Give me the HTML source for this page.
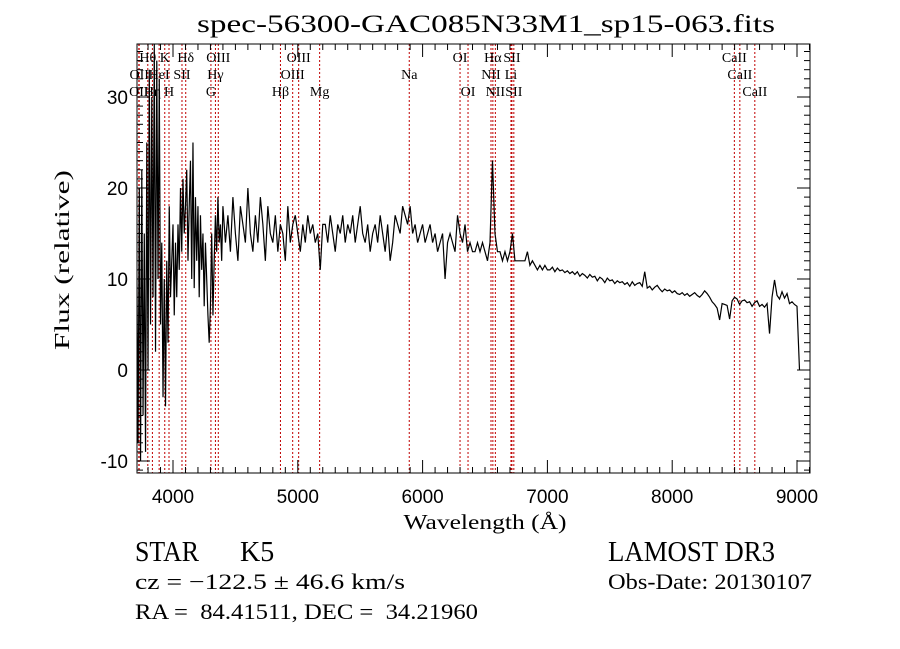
<!DOCTYPE html>
<html><head><meta charset="utf-8"><style>
html,body{margin:0;padding:0;background:#fff}
svg{display:block}
text{font-family:"Liberation Serif",serif;fill:#000}
.sans{font-family:"Liberation Sans",sans-serif}
</style></head><body>
<svg id="chart" width="900" height="649" viewBox="0 0 900 649" xmlns="http://www.w3.org/2000/svg">
<rect x="0" y="0" width="900" height="649" fill="#fff"/>
<text x="486" y="32" font-size="25" text-anchor="middle" textLength="578" lengthAdjust="spacingAndGlyphs">spec-56300-GAC085N33M1_sp15-063.fits</text>
<defs><clipPath id="plotclip"><rect x="137" y="44" width="673" height="429"/></clipPath></defs>
<g id="lines"></g>
<g id="labels"></g>
<g clip-path="url(#plotclip)"><polyline id="spec" fill="none" stroke="#000" stroke-width="1.2" stroke-linejoin="miter"/></g>
<rect x="137" y="44" width="673" height="429" fill="none" stroke="#000" stroke-width="1"/>
<g id="ticks"></g>
<g id="ticklabels"></g>
<text x="485" y="529" font-size="21" text-anchor="middle" textLength="163" lengthAdjust="spacingAndGlyphs">Wavelength (Å)</text>
<text transform="translate(69,260) rotate(-90)" font-size="21" text-anchor="middle" textLength="180" lengthAdjust="spacingAndGlyphs">Flux (relative)</text>
<text x="135" y="561" font-size="28" textLength="64" lengthAdjust="spacingAndGlyphs">STAR</text>
<text x="240" y="561" font-size="28">K5</text>
<text x="608" y="561" font-size="28" textLength="167" lengthAdjust="spacingAndGlyphs">LAMOST DR3</text>
<text x="135" y="589" font-size="22" textLength="270" lengthAdjust="spacingAndGlyphs">cz = −122.5 ± 46.6 km/s</text>
<text x="608" y="589" font-size="22" textLength="204" lengthAdjust="spacingAndGlyphs">Obs-Date: 20130107</text>
<text x="135" y="619" font-size="22" textLength="343" xml:space="preserve" lengthAdjust="spacingAndGlyphs">RA =  84.41511, DEC =  34.21960</text>
</svg>
<script>
// blue segment: 3710..4400 step 10 A
const blueStart = 3710, blueStep = 10;
const blueFlux = [12,-8,20,-10,22,-5,15,-9,25,0,33,5,30,8,36,2,34,10,32,5,14,-3,10,-4,12,3,18,8,12,16,6,14,8,16,11,20,13,21,15,18,22,12,18,23,10,25,9,19,12,18,8,17,11,15,7,14,10,6,3,7,15,6,12,17,13,19,14,16,12,18];
// red segment: 4420..9020 step 20 A
const redStart = 4420, redStep = 20;
const redFlux = [
14,17,13,19,15,12,18,16,14,20,
15,13,17,14,19,16,12,18,15,14,
17,13,16,15,12,18,14,16,17,15,
13,16,14,17,15,16,14,15,11,16,
16,14,17,15,13,16,15,17,14,16,
15,17,14,16,18,15,14,16,13,15,
16,14,17,15,13,16,12,14,17,16,
15,18,17,16,18,15,16,14,15,16,
14,15,16,14,15,13,14,15,10,14,
15,14,13,17,15,14,16,13,14,13,
13,14,13,14,13,12,14,23,15,13,
13,12,13,12,13,15,12,12,12,12,
12,13,11.5,12,11.5,11,11.5,11,11.5,11,
11,11.3,10.8,11.2,10.9,11,10.7,10.9,10.6,10.8,
10.5,10.8,10.3,10.6,10.4,10.1,10.5,10.2,10.3,9.8,
10.2,10,9.6,10.1,9.8,9.9,9.5,9.8,9.6,9.7,
9.4,9.6,9.2,9.7,9.3,9.5,9.6,9.2,10.8,9.0,
9.2,8.8,9.1,9.3,8.9,8.6,8.9,8.7,8.8,8.5,
8.7,8.4,8.3,8.5,8.2,8.4,8.1,8.3,8.5,8.2,
8.0,8.3,8.7,8.4,8.0,7.5,7.2,6.8,5.5,7.3,
7.2,7.1,5.6,7.6,8.0,7.8,7.2,7.6,7.7,7.4,
7.5,7.0,7.4,7.6,7.0,7.2,6.9,7.3,4.0,8.0,
9.9,8.2,7.8,8.6,7.9,8.4,7.3,7.5,7.2,7.0,0];
const lineWaves = [3726,3729,3798,3835,3889,3934,3968,4072,4102,4304,4340,4363,4861,4959,5007,5175,5893,6300,6364,6548,6563,6583,6708,6716,6731,8498,8542,8662];
const lineNames = ["OII","OII","Hθ","Hη","HeI","K","H","SII","Hδ","G","Hγ","OIII","Hβ","OIII","OIII","Mg","Na","OI","OI","NII","Hα","NII","Li","SII","SII","CaII","CaII","CaII"];
const lineRows = [3,2,1,3,2,1,3,2,1,3,2,1,3,2,1,3,2,1,3,2,1,3,2,1,3,1,2,3];
const xTickLabels = ["4000","5000","6000","7000","8000","9000"];
const yTickLabels = ["-10","0","10","20","30"];

const NS = "http://www.w3.org/2000/svg";
function xs(w){ return 173 + (w - 4000) * 0.1248; }
function ys(f){ return 370 - f * 9.1; }
function mk(tag, attrs, parent){ const e = document.createElementNS(NS, tag); for (const k in attrs) e.setAttribute(k, attrs[k]); parent.appendChild(e); return e; }

const pts = [];
blueFlux.forEach((f,i)=>{ pts.push(xs(blueStart+i*blueStep).toFixed(2)+","+ys(f).toFixed(2)); });
redFlux.forEach((f,i)=>{ pts.push(xs(redStart+i*redStep).toFixed(2)+","+ys(f).toFixed(2)); });
document.getElementById('spec').setAttribute('points', pts.join(' '));

const gl = document.getElementById('lines'), glab = document.getElementById('labels');
lineWaves.forEach((w,i)=>{
  const x = xs(w);
  const ln = mk('line', {x1:x, x2:x, y1:44, y2:473, stroke:'#c00000', 'stroke-width':1, 'stroke-dasharray':'2,2'}, gl);
  
  
  const t = mk('text', {x:x, y:[0,62,79,96][lineRows[i]], 'font-size':14, 'text-anchor':'middle'}, glab);
  t.textContent = lineNames[i];
  
  
});

const gt = document.getElementById('ticks'), gtl = document.getElementById('ticklabels');
for (let w = 3800; w <= 9100; w += 100) {
  const x = xs(w), major = (w % 1000 === 0), L = major ? 13 : 6;
  mk('line', {x1:x, x2:x, y1:473, y2:473-L, stroke:'#000'}, gt);
  mk('line', {x1:x, x2:x, y1:44, y2:44+L, stroke:'#000'}, gt);
}
for (let f = -11; f <= 35; f += 1) {
  const y = ys(f), major = (f % 10 === 0), L = major ? 13 : 6;
  mk('line', {x1:137, x2:137+L, y1:y, y2:y, stroke:'#000'}, gt);
  mk('line', {x1:810, x2:810-L, y1:y, y2:y, stroke:'#000'}, gt);
}
xTickLabels.forEach(s=>{
  const t = mk('text', {x:xs(+s), y:503, 'font-size':19, 'text-anchor':'middle', class:'sans'}, gtl);
  t.textContent = s;
  
  
});
yTickLabels.forEach(s=>{
  const t = mk('text', {x:128, y:ys(+s)+7, 'font-size':19, 'text-anchor':'end', class:'sans'}, gtl);
  t.textContent = s;
  
  
});
</script>
</body></html>
